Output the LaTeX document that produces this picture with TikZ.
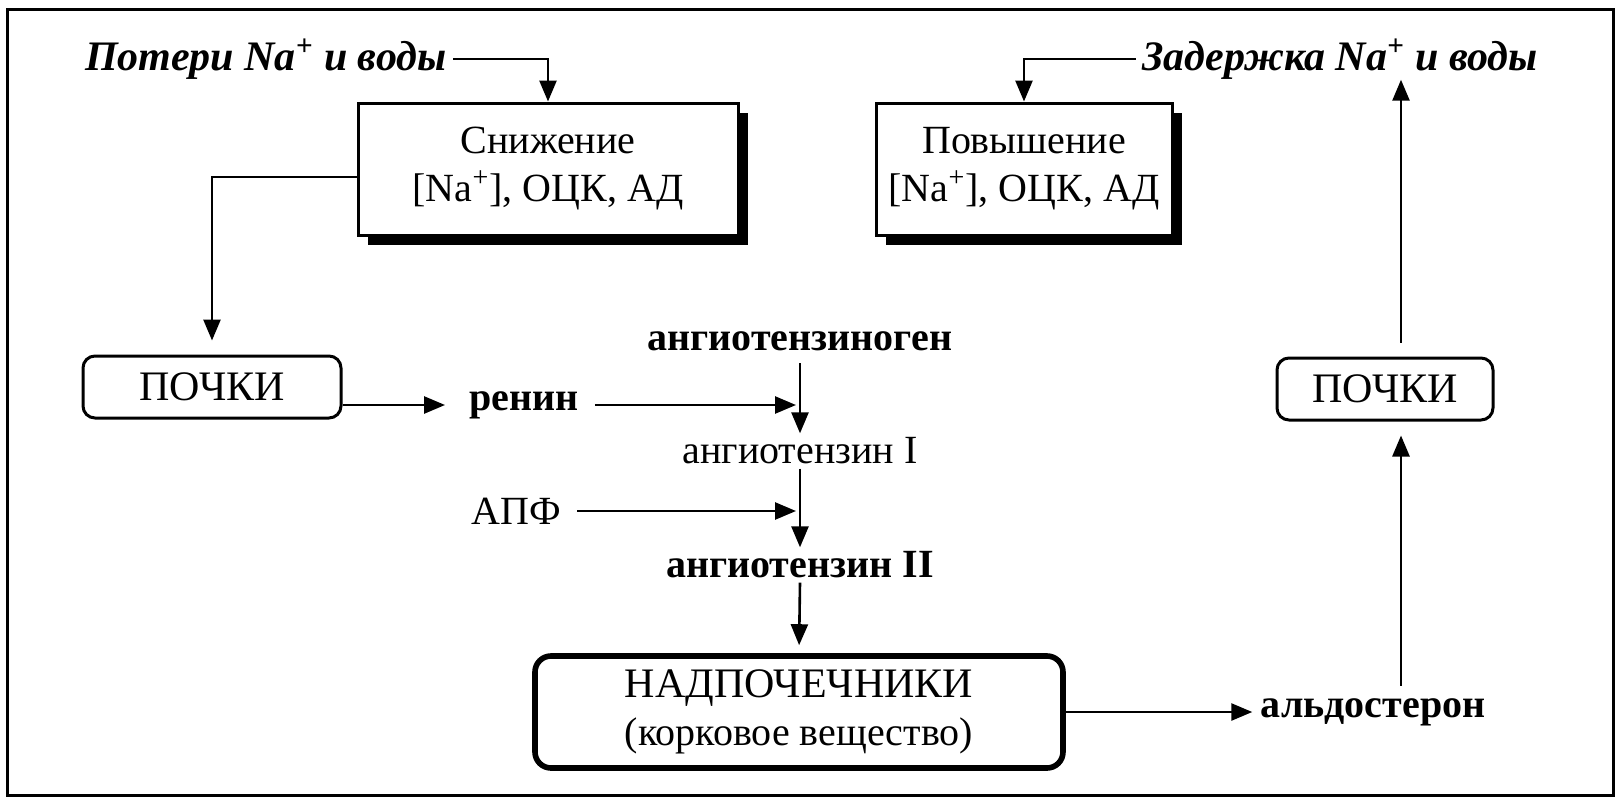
\documentclass[tikz,border=0pt]{standalone}
\usepackage{fontspec}
\setmainfont{Liberation Serif}
\usetikzlibrary{arrows.meta,shadows}
\begin{document}
\begin{tikzpicture}[x=0.5pt,y=-0.5pt,
  every node/.style={font=\fontsize{20}{24}\selectfont},
  arr/.style={line width=1.3pt,-{Triangle[length=10.5pt,width=8.5pt]}},
  shbox/.style={draw,line width=1.5pt,fill=white,align=center,inner sep=0pt,
    drop shadow={shadow xshift=5pt,shadow yshift=-5pt,fill=black,opacity=1}},
  rbox/.style={draw,line width=1.5pt,rounded corners=6pt,align=center,inner sep=0pt},
  txt/.style={inner sep=2pt},
  btxt/.style={inner sep=2pt,font=\fontsize{20}{24}\selectfont\bfseries},
  ititle/.style={inner sep=3pt,font=\fontsize{21}{24}\selectfont\bfseries\itshape}
]
\useasboundingbox (0,0) rectangle (1619,799);
\draw[line width=1.5pt] (7,9) rectangle (1613,795);

% top boxes
\node[shbox,minimum width=190pt,minimum height=66pt] (sn) at (548,169)
  {Снижение\\{[}Na\textsuperscript{+}], ОЦК, АД};
\node[shbox,minimum width=148pt,minimum height=66pt] (pov) at (1024,169)
  {Повышение\\{[}Na\textsuperscript{+}], ОЦК, АД};

% top texts
\node[ititle] (loss) at (266,59) {Потери Na\textsuperscript{+} и воды};
\node[ititle] (zad) at (1340,59) {Задержка Na\textsuperscript{+} и воды};

% kidneys
\node[rbox,minimum width=129pt,minimum height=31pt] (pl) at (212,387)
  {\fontsize{21}{24}\selectfont ПОЧКИ};
\node[rbox,minimum width=108pt,minimum height=31pt] (pr) at (1385,389)
  {\fontsize{21}{24}\selectfont ПОЧКИ};

% cascade
\node[btxt] (ren) at (524,405) {ренин};
\node[btxt] (ang0) at (800,341) {ангиотензиноген};
\node[txt] (ang1) at (800,451) {ангиотензин I};
\node[txt] (apf) at (516,511) {АПФ};
\node[btxt] (ang2) at (800,565) {ангиотензин II};

% adrenal
\node[rbox,line width=2.8pt,rounded corners=8pt,minimum width=264pt,minimum height=56pt] (adr) at (799,712)
  {\fontsize{21}{25}\selectfont НАДПОЧЕЧНИКИ\\(корковое вещество)};
\node[btxt] (aldo) at (1373,712) {альдостерон};

% connectors
\draw[arr] (loss.east) -| (sn.north);
\draw[arr] (zad.west) -| (pov.north);
\draw[arr,shorten >=7pt] ([yshift=-4pt]sn.west) -| (pl.north);
\draw[arr,shorten >=10pt] (ren.west -| pl.east) -- (ren.west);
\draw[arr,shorten >=2pt] (ren.east) ++(6pt,0) -- (ren.east -| ang0.south);
\draw[arr,shorten >=2pt] (apf.east) ++(6pt,0) -- (apf.east -| ang0.south);
\draw[arr,shorten <=4pt] (ang0.south) -- (ang1.north);
\draw[arr] (ang1.south) -- (ang2.north);
\draw[arr,shorten >=4pt] (ang2.south) -- (adr.north);
\draw[arr,shorten >=2pt] (adr.east |- aldo.west) -- (aldo.west);
\coordinate (vb) at ([xshift=14pt,yshift=4pt]aldo.north);
\draw[arr,shorten >=7pt] (vb) -- (vb |- pr.south);
\draw[arr,shorten <=7pt,shorten >=-3pt] (vb |- pr.north) -- (vb |- zad.south);
\end{tikzpicture}
\end{document}
